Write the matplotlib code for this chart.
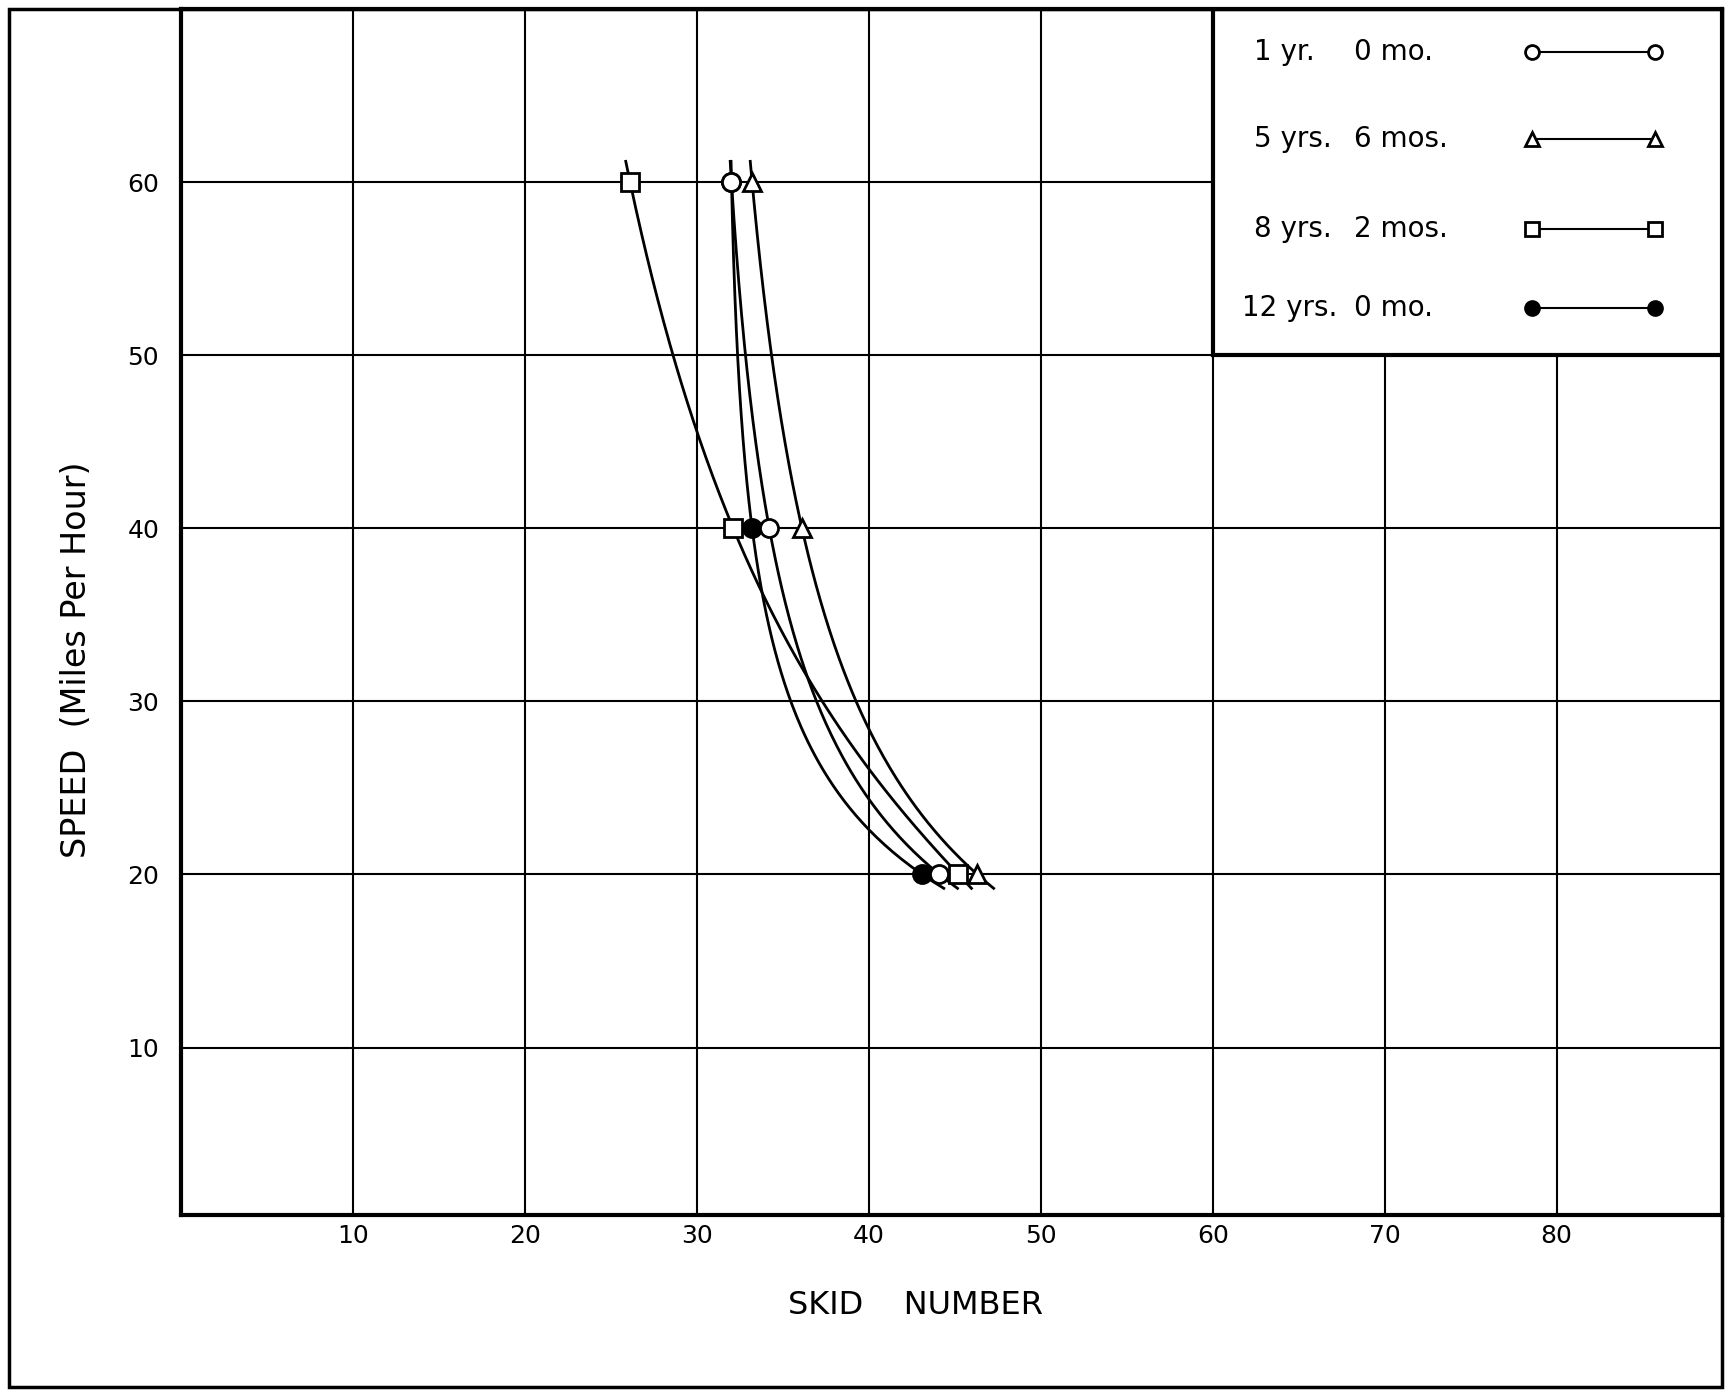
import numpy as np
import matplotlib.pyplot as plt
from matplotlib.patches import Rectangle

# Speeds tested (mph)
speeds = [60, 40, 20]

# Skid numbers for each pavement age
skid_1yr = [32.0, 34.2, 44.1]
skid_5yr = [33.2, 36.1, 46.3]
skid_8yr = [26.1, 32.1, 45.2]
skid_12yr = [32.0, 33.2, 43.1]

age_years = ['1 yr.', '5 yrs.', '8 yrs.', '12 yrs.']
age_months = ['0 mo.', '6 mos.', '2 mos.', '0 mo.']
markers = ['o', '^', 's', 'o']
fills = ['white', 'white', 'white', 'black']
series = [skid_1yr, skid_5yr, skid_8yr, skid_12yr]

plt.rcParams['font.family'] = ['DejaVu Sans']

fig = plt.figure(figsize=(17.25, 13.91), dpi=100)
ax = fig.add_axes([0.1052, 0.1262, 0.8928, 0.8673])

# outer frame of the sheet
fig.add_artist(Rectangle((0.005, 0.003), 0.993, 0.9905, transform=fig.transFigure,
                         fill=False, lw=2.5, color='black'))

ax.set_xlim(0, 89.6)
ax.set_ylim(0.3, 70)
ax.set_xticks(range(10, 90, 10))
ax.set_yticks(range(10, 70, 10))
ax.tick_params(length=0, labelsize=18)
ax.tick_params(axis='x', pad=6)
ax.tick_params(axis='y', pad=16)
ax.grid(True, color='black', lw=1.5)
ax.set_axisbelow(True)
for sp in ax.spines.values():
    sp.set_linewidth(3)

ax.text(42.7, -0.075, 'SKID    NUMBER', transform=ax.get_xaxis_transform(),
        fontsize=23, ha='center', va='center')
ax.text(-0.068, 32.4, 'SPEED  (Miles Per Hour)', transform=ax.get_yaxis_transform(),
        fontsize=24, ha='center', va='center', rotation=90)

# smooth hand-drawn style curves: quadratic in 1/speed through the 3 points
yy = np.linspace(19.2, 61.2, 200)
for s in series:
    coef = np.polyfit(1.0 / np.array(speeds), s, 2)
    ax.plot(np.polyval(coef, 1.0 / yy), yy, color='black', lw=2, zorder=3)
for i in [3, 2, 0, 1]:
    ax.plot(series[i], speeds, ls='none', marker=markers[i], ms=13, mfc=fills[i],
            mec='black', mew=2, zorder=4)

# legend box occupying the top-right grid cell
ax.add_patch(Rectangle((60, 50), 29.6, 20, facecolor='white', edgecolor='black',
                       lw=3, zorder=5))
rows = [67.5, 62.5, 57.3, 52.7]
for yr, mo, m, fc, y in zip(age_years, age_months, markers, fills, rows):
    ax.text(62.4 if yr != '12 yrs.' else 61.7, y, yr, fontsize=20, va='center', zorder=6)
    ax.text(68.2, y, mo, fontsize=20, va='center', zorder=6)
    ax.plot([78.6, 85.7], [y, y], color='black', lw=1.5, marker=m, ms=10,
            mfc=fc, mec='black', mew=2, zorder=6)

fig.savefig('out.png', dpi=100)
